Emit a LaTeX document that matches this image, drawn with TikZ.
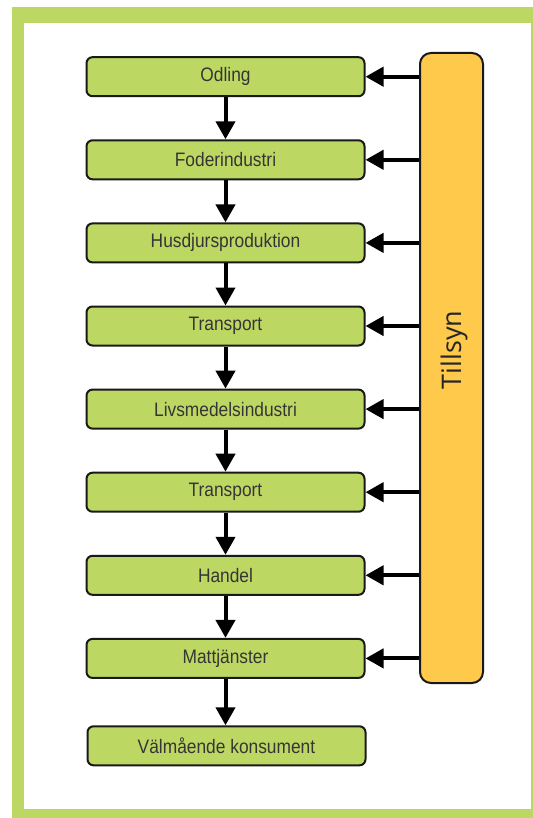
\documentclass[tikz,border=0pt]{standalone}
\usepackage{fontspec}
\usepackage{xcolor}
\usepackage{tikz}
\usetikzlibrary{arrows.meta,positioning}

\newfontfamily\stagefont[FakeStretch=0.89]{Liberation Sans}
\newfontfamily\tillfont{Open Sans}

\definecolor{leafgreen}{HTML}{BDD862}
\definecolor{sungold}{HTML}{FFCA4C}
\definecolor{inkgray}{HTML}{353535}

\tikzset{
    stage/.style={draw=black!90, line width=2pt, fill=leafgreen, rounded corners=6pt,
        minimum width=278pt, minimum height=39pt, inner sep=0pt,
        text=inkgray, font=\stagefont\fontsize{19.5}{21}\selectfont},
    flow/.style={line width=4pt, -{Triangle[length=18pt,width=19pt]}},
    bar/.style={draw=black!90, line width=2pt, fill=sungold, rounded corners=11pt,
        minimum width=63pt, minimum height=630pt, inner sep=0pt}
}

\begin{document}
\begin{tikzpicture}[x=1pt, y=-1pt]
    \useasboundingbox (0,0) rectangle (532,818);
    % Frame
    \fill[white] (0,0) rectangle (532,818);
    \fill[leafgreen] (12,7) rectangle (560,850);
    \fill[white] (24,23) rectangle (530.5,809);

    % Chain of stages
    \foreach \nm/\txt [count=\k from 0] in {odl/Odling, fod/Foderindustri,
            hus/Husdjursproduktion, tra/Transport, liv/Livsmedelsindustri,
            trb/Transport, han/Handel, mat/Mattj\"anster} {
        \node[stage] (\nm) at (225.5, {76.7+83.1*\k}) {\txt};
    }
    \node[stage] (kon) at (226.5, 745.8) {V\"alm\aa ende konsument};

    \foreach \a/\b in {odl/fod, fod/hus, hus/tra, tra/liv, liv/trb, trb/han, han/mat, mat/kon} {
        \draw[flow] (\a.south) -- (\a.south |- \b.north);
    }

    % Tillsyn
    \node[bar] (tillsyn) at (451.5, 368) {};
    \node[rotate=90, text=black!85, font=\tillfont\fontsize{27}{30}\selectfont] (tlab) at (454, 350) {Tillsyn};

    \foreach \nm in {odl, fod, hus, tra, liv, trb, han, mat} {
        \draw[flow] (tillsyn.west |- \nm.east) -- (\nm.east);
    }
\end{tikzpicture}
\end{document}
